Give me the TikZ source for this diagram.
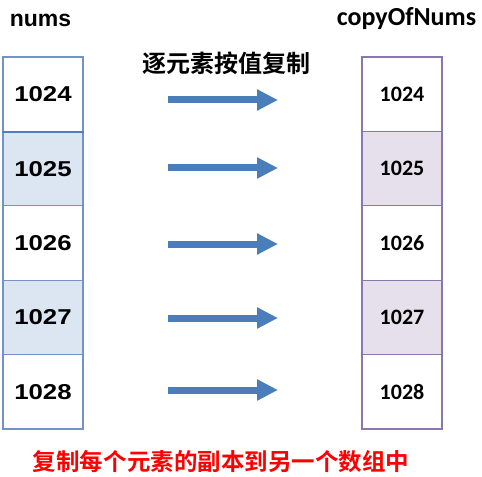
\documentclass[tikz,border=0pt]{standalone}
\usepackage{fontspec}
\setmainfont{Liberation Sans}
\newfontfamily\arialbold{Liberation Sans Bold}
\newfontfamily\numfont{Liberation Sans Bold}[FakeStretch=1.2]
\newfontfamily\calfont{Carlito Bold}
\newfontfamily\cjk{Noto Sans CJK SC Bold}
\usetikzlibrary{arrows.meta}
\definecolor{lblue}{HTML}{7393C8}
\definecolor{lbluedark}{HTML}{4F7DBD}
\definecolor{lfill}{HTML}{DCE6F2}
\definecolor{rpurple}{HTML}{8A78AC}
\definecolor{rfill}{HTML}{E5E0EC}
\definecolor{arrowblue}{HTML}{4A7EBB}
\definecolor{redtext}{HTML}{FF0000}
\tikzset{
  lcell/.style={draw=lblue, line width=1.3bp, minimum width=80bp, minimum height=74.4bp, inner sep=0pt,
    font=\numfont\fontsize{21.5bp}{24bp}\selectfont},
  rcell/.style={draw=rpurple, line width=1.3bp, minimum width=80bp, minimum height=74.4bp, inner sep=0pt,
    font=\calfont\fontsize{22bp}{26bp}\selectfont},
  copyarrow/.style={draw=arrowblue, line width=7bp, -{Triangle[length=21bp,width=20bp]}},
}
\begin{document}
\begin{tikzpicture}[x=1bp,y=-1bp]
\useasboundingbox (0,0) rectangle (482,477);
\fill[white] (0,0) rectangle (482,477);
% headers
\node[anchor=base, inner sep=0pt, font=\arialbold\fontsize{23bp}{27bp}\selectfont] (numsTitle) at (40.5,27) {nums};
\node[anchor=base, inner sep=0pt, font=\calfont\fontsize{26bp}{30bp}\selectfont] (copyTitle) at (406.5,26) {copyOfNums};
\node[inner sep=0pt, font=\cjk\fontsize{24bp}{27bp}\selectfont] (midTitle) at (226,63) {逐元素按值复制};
% left cells
\node[lcell] (l1) at (43,94.2) {1024};
\node[lcell, fill=lfill] (l2) at (43,168.6) {1025};
\node[lcell] (l3) at (43,243) {1026};
\node[lcell, fill=lfill] (l4) at (43,317.4) {1027};
\node[lcell] (l5) at (43,391.8) {1028};
\draw[lbluedark, line width=1.8bp] (l1.south west) -- (l1.south east);
% right cells
\node[rcell] (r1) at (402,94.2) {1024};
\node[rcell, fill=rfill] (r2) at (402,168.6) {1025};
\node[rcell] (r3) at (402,243) {1026};
\node[rcell, fill=rfill] (r4) at (402,317.4) {1027};
\node[rcell] (r5) at (402,391.8) {1028};
% arrows
\coordinate (a1s) at (168,100); \coordinate (a1e) at (278,100);
\coordinate (a2s) at (168,168); \coordinate (a2e) at (278,168);
\coordinate (a3s) at (168,244); \coordinate (a3e) at (278,244);
\coordinate (a4s) at (168,318); \coordinate (a4e) at (278,318);
\coordinate (a5s) at (168,390); \coordinate (a5e) at (278,390);
\draw[copyarrow] (a1s) -- (a1e);
\draw[copyarrow] (a2s) -- (a2e);
\draw[copyarrow] (a3s) -- (a3e);
\draw[copyarrow] (a4s) -- (a4e);
\draw[copyarrow] (a5s) -- (a5e);
% bottom note
\node[inner sep=0pt, text=redtext, font=\cjk\fontsize{23.5bp}{26bp}\selectfont] (note) at (221,462) {复制每个元素的副本到另一个数组中};
\end{tikzpicture}
\end{document}
